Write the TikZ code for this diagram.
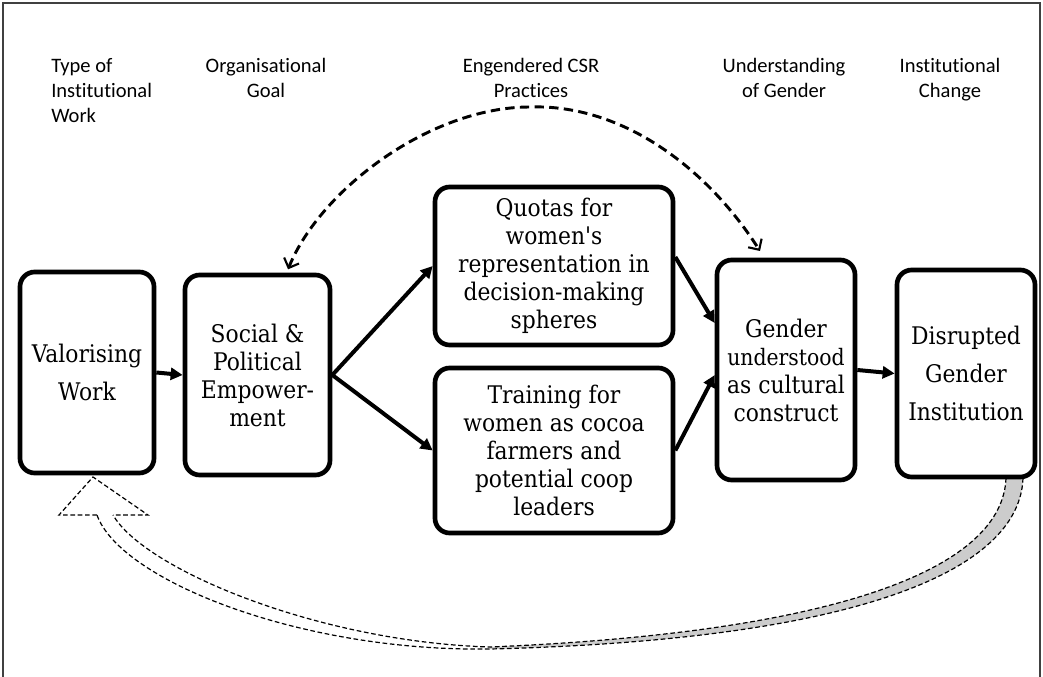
\documentclass[tikz,border=0pt]{standalone}
\usepackage{fontspec}
\defaultfontfeatures{}
\newfontfamily\boxfont{DejaVu Serif Condensed}
\newfontfamily\headfont{Carlito}[Ligatures=CommonOff]
\usetikzlibrary{arrows.meta}

\begin{document}
\begin{tikzpicture}[x=0.75pt,y=-0.75pt,
  card/.style={draw, line width=3.5pt, rounded corners=11pt, fill=white,
    inner sep=0pt, align=center, font=\boxfont\fontsize{18.2pt}{21pt}\selectfont},
  airy/.style={font=\boxfont\fontsize{18.2pt}{28.5pt}\selectfont},
  head/.style={inner sep=0pt, font=\headfont\fontsize{15.4pt}{18.75pt}\selectfont},
  flow/.style={line width=3pt, -{Triangle[length=9pt,width=9pt]}},
  link/.style={line width=2.2pt, dash pattern=on 7pt off 4pt,
    {Straight Barb[length=6pt,width=12pt,line width=1.6pt]}-{Straight Barb[length=6pt,width=12pt,line width=1.6pt]}},
  ribbon/.style={line width=0.9pt, dash pattern=on 3.5pt off 2pt},
]
\useasboundingbox (0,0) rectangle (1043,677);

% outer frame
\draw[black!75, line width=1pt] (3,677) -- (3,3) -- (1040,3) -- (1040,677);

% column headings
\node[head, anchor=north west, align=left] (h1) at (51,54.5)
  {\strut Type of\\\strut Institutional\\\strut Work};
\node[head, anchor=north, align=center] (h2) at (266,54.5)
  {\strut Organisational\\\strut Goal};
\node[head, anchor=north, align=center] (h3) at (531,54.5)
  {\strut Engendered CSR\\\strut Practices};
\node[head, anchor=north, align=center] (h4) at (784,54.5)
  {\strut Understanding\\\strut of Gender};
\node[head, anchor=north, align=center] (h5) at (950,54.5)
  {\strut Institutional\\\strut Change};

% feedback ribbon from the institution back to the work
\coordinate (ra) at (1023,478);
\coordinate (rb) at (1006,478);
\coordinate (ma) at (490,649);
\coordinate (mb) at (490,647);
\coordinate (la) at (97,515);
\coordinate (lb) at (113,515);
\fill[black!20] (ra) .. controls (1020,570) and (860,640) .. (ma) -- (mb)
  .. controls (850,632) and (1003,565) .. (rb) -- cycle;
\draw[ribbon] (ra) .. controls (1020,570) and (860,640) .. (ma)
  .. controls (300,652) and (120,580) .. (la);
\draw[ribbon] (rb) .. controls (1003,565) and (850,632) .. (mb)
  .. controls (320,642) and (145,570) .. (lb);
\draw[ribbon] (la) -- (59,515) -- (93,477) -- (148,515) -- (lb);

% boxes
\node[card, minimum width=100.5pt, minimum height=150.75pt, airy] (val) at (87,372.5)
  {Valorising\\Work};
\node[card, minimum width=108.75pt, minimum height=150pt] (soc) at (257.5,375)
  {Social \&\\Political\\Empower-\\ment};
\node[card, minimum width=178.5pt, minimum height=118.5pt] (quo) at (554,266)
  {Quotas for\\women's\\representation in\\decision-making\\spheres};
\node[card, minimum width=178.5pt, minimum height=123.75pt] (tra) at (554,450.5)
  {Training for\\women as cocoa\\farmers and\\potential coop\\leaders};
\node[card, minimum width=103.5pt, minimum height=165pt] (gen) at (786,370)
  {Gender\\{\fontsize{17pt}{21pt}\selectfont understood}\\as cultural\\construct};
\node[card, minimum width=103.5pt, minimum height=155.25pt, airy] (dis) at (966,373.5)
  {Disrupted\\Gender\\Institution};

% solid flow arrows
\draw[flow] (val.east) -- (soc.west);
\draw[flow] (soc.east) -- (quo.west);
\draw[flow] (soc.east) -- (tra.west);
\draw[flow] ([yshift=6.75pt]quo.east) -- ([yshift=35.25pt]gen.west);
\draw[flow] (tra.east) -- ([yshift=-3.75pt]gen.west);
\draw[flow] (gen.east) -- (dis.west);

% dashed two-way link between goal and understanding
\coordinate (apex) at (530,107);
\draw[link] ([xshift=22.9pt,yshift=2.5pt]soc.north) .. controls (320,190) and (430,107) .. (apex)
  .. controls (620,104) and (705,165) .. ([xshift=-19.5pt,yshift=5pt]gen.north);
\end{tikzpicture}
\end{document}
